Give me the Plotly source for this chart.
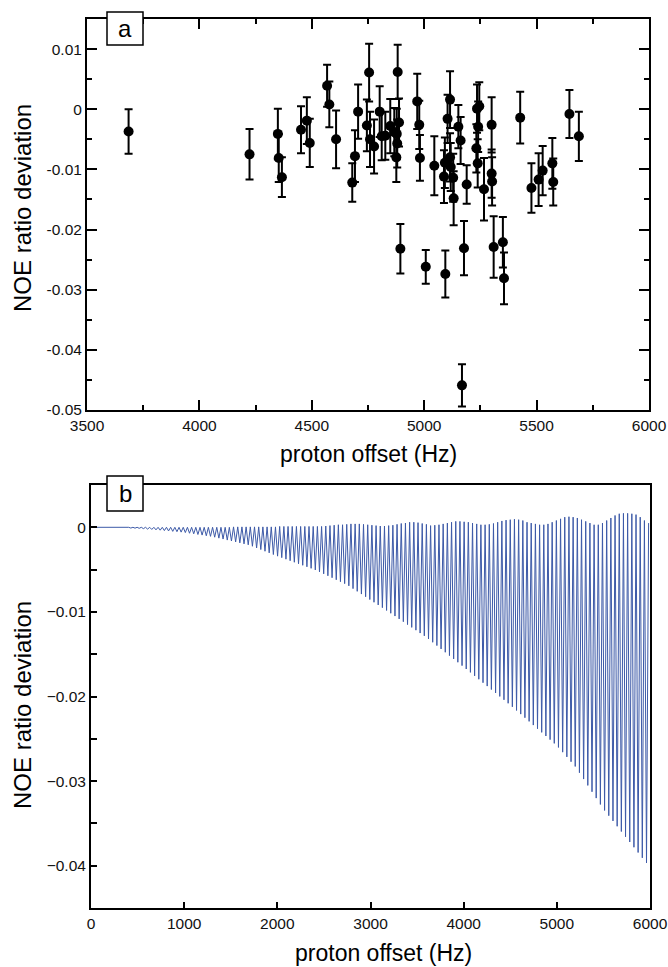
import plotly.graph_objects as go

# ---------------- Panel a data ----------------
offset_a = [3685, 4223, 4349, 4353, 4367, 4452, 4478, 4491, 4568, 4578,
            4608, 4680, 4692, 4706, 4755, 4745, 4759, 4777, 4802, 4811,
            4827, 4849, 4867, 4882, 4888, 4878, 4880, 4876, 4969, 4978,
            4981, 5045, 5115, 5104, 5092, 5088, 5115, 5118, 5129, 5131,
            5152, 5162, 5189, 5245, 5235, 5240, 5232, 5238, 5266, 5300,
            5300, 5302, 5427, 5477, 5509, 5527, 5570, 5574, 5646, 5688,
            4894, 5007, 5094, 5177, 5309, 5350, 5355, 5168]
dev_a = [-0.0037, -0.0075, -0.0041, -0.0081, -0.0113, -0.0034, -0.0019, -0.0056, 0.0039, 0.0008,
         -0.0050, -0.0122, -0.0078, -0.0004, 0.0061, -0.0027, -0.0050, -0.0062, -0.0004, -0.0045,
         -0.0044, -0.0028, -0.0038, 0.0062, -0.0022, -0.0041, -0.0057, -0.0080, 0.0013, -0.0026,
         -0.0081, -0.0094, 0.0016, -0.0016, -0.0089, -0.0112, -0.0080, -0.0096, -0.0114, -0.0148,
         -0.0029, -0.0052, -0.0125, 0.0005, 0.0001, -0.0029, -0.0065, -0.0090, -0.0133, -0.0026,
         -0.0107, -0.0120, -0.0014, -0.0131, -0.0117, -0.0102, -0.0090, -0.0121, -0.0008, -0.0045,
         -0.0232, -0.0262, -0.0274, -0.0231, -0.0229, -0.0221, -0.0281, -0.0459]
err_a = [0.0037, 0.0042, 0.0042, 0.0040, 0.0033, 0.0039, 0.0039, 0.0040, 0.0035, 0.0038,
         0.0048, 0.0032, 0.0043, 0.0045, 0.0048, 0.0043, 0.0046, 0.0045, 0.0042, 0.0040,
         0.0040, 0.0045, 0.0040, 0.0045, 0.0040, 0.0042, 0.0040, 0.0041, 0.0046, 0.0040,
         0.0038, 0.0049, 0.0047, 0.0040, 0.0042, 0.0044, 0.0040, 0.0040, 0.0040, 0.0045,
         0.0036, 0.0039, 0.0032, 0.0040, 0.0040, 0.0042, 0.0040, 0.0040, 0.0052, 0.0046,
         0.0040, 0.0040, 0.0043, 0.0041, 0.0044, 0.0041, 0.0042, 0.0039, 0.0040, 0.0041,
         0.0041, 0.0028, 0.0039, 0.0045, 0.0051, 0.0042, 0.0043, 0.0035]

# ---------------- Panel b data ----------------
# simulated curve: alternating crests / troughs, one every half_step_hz
half_step_hz = 22.5
crest_b = [0.0] * 34 + [
    0.00005, 0.00005, 0.00005, 0.00005, 0.00005, 0.00005, 0.00005, 0.00005, 0.00005, 0.00005, 0.00005,
    0.0001, 0.0001, 0.0001, 0.0001, 0.0001, 0.0001, 0.0001, 0.0001, 0.0001, 0.0001, 0.0001,
    0.00015, 0.0002, 0.00025, 0.0003, 0.0003,
    0.00035, 0.0004, 0.0004, 0.0004, 0.00035,
    0.0003, 0.00025, 0.0002, 0.00015, 0.00015,
    0.0002, 0.00025, 0.00035, 0.00045, 0.0005,
    0.0006, 0.0006, 0.00055, 0.00045, 0.00035,
    0.0002, 0.00025, 0.0003, 0.0004,
    0.0005, 0.0006, 0.0007, 0.0007, 0.00065, 0.0006,
    0.0005, 0.0004, 0.0003, 0.0003, 0.00035,
    0.00045, 0.0006, 0.00075, 0.00085, 0.0009, 0.00095, 0.0009, 0.0008,
    0.0006, 0.0005, 0.0004, 0.0003, 0.0003,
    0.0004, 0.0006, 0.0008, 0.001, 0.0012, 0.00125, 0.0012, 0.0011,
    0.0009, 0.0007, 0.0005, 0.0003, 0.0003,
    0.0005, 0.0008, 0.0011, 0.0014, 0.0016, 0.00165, 0.00165, 0.0016, 0.0015,
    0.0012, 0.0008, 0.0005]
trough_b = [
    0.0, -0.00001, -0.00002, -0.00003, -0.00004, -0.00005, -0.00006, -0.00007, -0.00008, -0.00009,
    -0.0001, -0.00012, -0.00016, -0.00021, -0.00025, -0.0003, -0.00034, -0.00039, -0.00043, -0.00048,
    -0.00052, -0.00057, -0.00062, -0.0007, -0.00077, -0.00085, -0.00092, -0.001, -0.00107, -0.00117,
    -0.00128, -0.00139, -0.00151, -0.00162, -0.00173, -0.00184, -0.00196, -0.00207, -0.00224, -0.00244,
    -0.00263, -0.00283, -0.00302, -0.00322, -0.00341, -0.00359, -0.00377, -0.00395, -0.00413, -0.00431,
    -0.00449, -0.00467, -0.00485, -0.00504, -0.00527, -0.0055, -0.00573, -0.00596, -0.0062, -0.00643,
    -0.00666, -0.00692, -0.00725, -0.00757, -0.00789, -0.00821, -0.00854, -0.00886, -0.00918, -0.0095,
    -0.00983, -0.01016, -0.01049, -0.01083, -0.01116, -0.0115, -0.01183, -0.01216, -0.0125, -0.01283,
    -0.0132, -0.01359, -0.01398, -0.01438, -0.01477, -0.01517, -0.01556, -0.01595, -0.01635, -0.01675,
    -0.01715, -0.01756, -0.01796, -0.01837, -0.01877, -0.01918, -0.01958, -0.01999, -0.02039, -0.0208,
    -0.02122, -0.02165, -0.02208, -0.02251, -0.02294, -0.02338, -0.02381, -0.02424, -0.02467, -0.0251,
    -0.02554, -0.02602, -0.02658, -0.02714, -0.02771, -0.02827, -0.02901, -0.02976, -0.03051, -0.03126,
    -0.03201, -0.03276, -0.03347, -0.03409, -0.03471, -0.03534, -0.03596, -0.03658, -0.0372, -0.03782,
    -0.03844, -0.03907, -0.03968]

yticks_a = [0.01, 0, -0.01, -0.02, -0.03, -0.04, -0.05]
yticktext_a = ["0.01", "0", "-0.01", "-0.02", "-0.03", "-0.04", "-0.05"]

# interleave crest / trough
y_b = []
for i in range(len(trough_b)):
    y_b.append(crest_b[i])
    y_b.append(trough_b[i])
y_b.append(crest_b[len(trough_b)])
x_b = [i * half_step_hz for i in range(len(y_b))]

FONT = "Liberation Sans, Arial, sans-serif"
W, H = 668, 967
TICK_SIZE = 15.5
XTITLE_SIZE = 23
YTITLE_SIZE = 24

fig = go.Figure()
fig.add_trace(go.Scatter(
    x=offset_a, y=dev_a, mode="markers",
    marker=dict(color="black", size=10),
    error_y=dict(type="data", array=err_a, visible=True, color="black", thickness=2, width=4),
    xaxis="x", yaxis="y", hoverinfo="skip"))
fig.add_trace(go.Scatter(
    x=x_b, y=y_b, mode="lines", line=dict(color="#3d5aa8", width=1),
    xaxis="x2", yaxis="y2", hoverinfo="skip"))

def px_x(p):
    return p / W

def px_y(p):
    return 1 - p / H

axis_common = dict(showline=True, linecolor="black", linewidth=2, showgrid=False, zeroline=False,
                   automargin=False, ticks="inside", tickcolor="black",
                   tickfont=dict(family=FONT, size=TICK_SIZE, color="#111"))

fig.update_layout(
    template="none",
    width=W, height=H, margin=dict(l=0, r=0, t=0, b=0, pad=0),
    paper_bgcolor="white", plot_bgcolor="white", showlegend=False,
    xaxis=dict(axis_common, domain=[px_x(87), px_x(649)], range=[3500, 6000], anchor="y",
               tick0=3500, dtick=500, ticklen=10, tickwidth=2, mirror="allticks",
               minor=dict(dtick=250, ticklen=5, tickwidth=2, ticks="inside", tickcolor="black")),
    yaxis=dict(axis_common, domain=[px_y(410), px_y(19)], range=[-0.05, 0.015], anchor="x",
               tickmode="array", tickvals=yticks_a, ticktext=yticktext_a,
               ticklen=10, tickwidth=2, mirror="allticks",
               minor=dict(dtick=0.005, tick0=0, ticklen=5, tickwidth=2, ticks="inside", tickcolor="black")),
    xaxis2=dict(axis_common, domain=[px_x(91), px_x(650)], range=[0, 6000], anchor="y2",
                tick0=0, dtick=1000, ticklen=6, tickwidth=1.5, mirror=True),
    yaxis2=dict(axis_common, domain=[px_y(908), px_y(485)], range=[-0.045, 0.005], anchor="x2",
                tick0=0, dtick=0.01, ticklen=6, tickwidth=1.5, mirror=True,
                minor=dict(dtick=0.005, tick0=0, ticklen=6, tickwidth=1.5, ticks="inside", tickcolor="black")),
)

annots = [
    dict(text="NOE ratio deviation", x=px_x(22), y=px_y(208), textangle=-90, font_size=YTITLE_SIZE),
    dict(text="NOE ratio deviation", x=px_x(22), y=px_y(705), textangle=-90, font_size=YTITLE_SIZE),
    dict(text="proton offset (Hz)", x=px_x(368), y=px_y(454), font_size=XTITLE_SIZE),
    dict(text="proton offset (Hz)", x=px_x(383), y=px_y(953), font_size=XTITLE_SIZE),
    dict(text="a", x=px_x(125), y=px_y(28.5), font_size=24),
    dict(text="b", x=px_x(125), y=px_y(493.5), font_size=24),
]
for a in annots:
    fig.add_annotation(xref="paper", yref="paper", showarrow=False, xanchor="center", yanchor="middle",
                       text=a["text"], x=a["x"], y=a["y"], textangle=a.get("textangle", 0),
                       font=dict(family=FONT, size=a["font_size"], color="black"))

for (x0, y0, x1, y1) in [(107, 12, 143, 45), (107, 476, 143, 511)]:
    fig.add_shape(type="rect", xref="paper", yref="paper",
                  x0=px_x(x0), x1=px_x(x1), y0=px_y(y1), y1=px_y(y0),
                  line=dict(color="black", width=1.5), fillcolor="white", layer="above")

fig.write_html("out.html")
